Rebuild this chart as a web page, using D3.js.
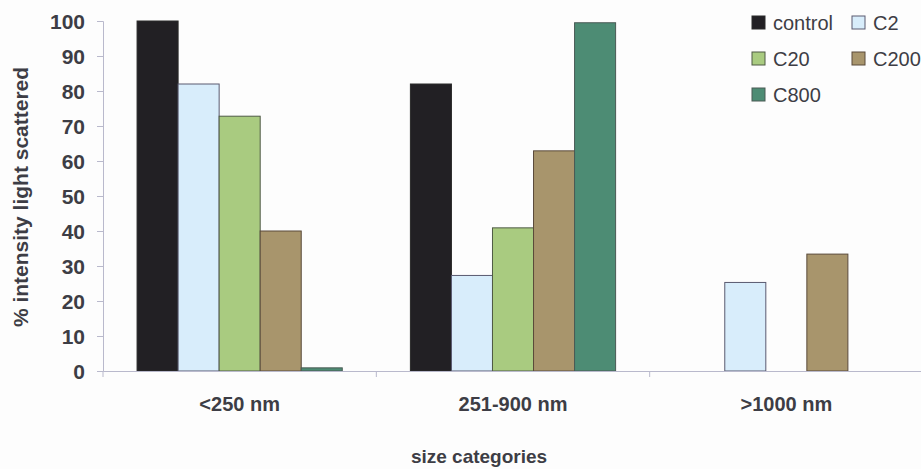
<!DOCTYPE html>
<html>
<head>
<meta charset="utf-8">
<script src="https://cdn.jsdelivr.net/npm/d3@7"></script>
<style>
  body { margin: 0; background: #fdfdfd; }
  text { font-family: Arial, "Liberation Sans", sans-serif; fill: #3d3d45; }
</style>
</head>
<body>
<div id="chart"></div>
<script>
// data
const categories = ["<250 nm", "251-900 nm", ">1000 nm"];
const seriesNames = ["control", "C2", "C20", "C200", "C800"];
const control = [100, 82, 0];
const c2      = [82, 27.3, 25.3];
const c20     = [72.8, 40.9, 0];
const c200    = [40, 62.9, 33.4];
const c800    = [0.9, 99.5, 0];
const yTicks  = [0, 10, 20, 30, 40, 50, 60, 70, 80, 90, 100];

const colors  = ["#222024", "#d8edfb", "#a9cb80", "#a8956c", "#4d8c74"];
const strokes = ["#2a2a2a", "#5a5a70", "#4f5a45", "#5a4a3a", "#4a5a55"];

const width = 921, height = 469;
const margin = { left: 103, right: -2, top: 21, bottom: 98 };

const svg = d3.select("#chart").append("svg")
  .attr("width", width).attr("height", height);

const table = categories.map(function(c, i) {
  return { cat: c, values: [control[i], c2[i], c20[i], c200[i], c800[i]] };
});

const x0 = d3.scaleBand()
  .domain(categories)
  .range([margin.left, width - margin.right])
  .paddingInner(0).paddingOuter(0);

const x1 = d3.scaleBand()
  .domain(seriesNames)
  .range([0, x0.bandwidth()])
  .paddingInner(0)
  .paddingOuter(0.83);

const y = d3.scaleLinear()
  .domain([0, 100])
  .range([height - margin.bottom, margin.top]);

const axisColor = "#b9b9cc";

// bars
const groups = svg.append("g").selectAll("g")
  .data(table)
  .enter().append("g")
    .attr("transform", function(d) { return "translate(" + x0(d.cat) + ",0)"; });

groups.selectAll("rect")
  .data(function(d) { return d.values.map(function(v, j) { return { name: seriesNames[j], v: v, j: j }; }); })
  .enter().append("rect")
    .filter(function(d) { return d.v > 0; })
    .attr("x", function(d) { return x1(d.name); })
    .attr("width", x1.bandwidth())
    .attr("y", function(d) { return y(d.v); })
    .attr("height", function(d) { return y(0) - y(d.v); })
    .attr("fill", function(d) { return colors[d.j]; })
    .attr("stroke", function(d) { return strokes[d.j]; })
    .attr("stroke-width", 1);

// y axis
const yAxis = svg.append("g")
  .attr("transform", "translate(" + margin.left + ",0)")
  .call(d3.axisLeft(y).tickValues(yTicks).tickSize(6).tickPadding(12));
yAxis.select(".domain").attr("stroke", axisColor);
yAxis.selectAll(".tick line").attr("stroke", axisColor);
yAxis.selectAll(".tick text")
  .attr("dy", "0.36em")
  .style("font-size", "21px").style("font-weight", "bold").attr("fill", "#3d3d45");

// x axis
const xAxis = svg.append("g")
  .attr("transform", "translate(0," + y(0) + ")")
  .call(d3.axisBottom(x0).tickSize(0).tickPadding(0));
xAxis.select(".domain").attr("stroke", axisColor);
xAxis.selectAll(".tick text")
  .attr("dy", "0")
  .attr("y", 40)
  .style("font-size", "20px").style("font-weight", "bold").attr("fill", "#3d3d45");

// category separators
svg.append("g").selectAll("line")
  .data(categories)
  .enter().append("line")
    .attr("x1", function(d) { return x0(d); })
    .attr("x2", function(d) { return x0(d); })
    .attr("y1", y(0))
    .attr("y2", y(0) + 6)
    .attr("stroke", axisColor);

// axis titles
svg.append("text")
  .attr("transform", "translate(28,197) rotate(-90)")
  .attr("text-anchor", "middle")
  .style("font-size", "21px").style("font-weight", "bold")
  .text("% intensity light scattered");

svg.append("text")
  .attr("x", 479).attr("y", 463)
  .attr("text-anchor", "middle")
  .style("font-size", "19px").style("font-weight", "bold")
  .text("size categories");

// legend
const legendPos = [[752, 16], [852, 16], [752, 52], [852, 52], [752, 88]];
const legend = svg.append("g").selectAll("g")
  .data(seriesNames)
  .enter().append("g")
    .attr("transform", function(d, i) { return "translate(" + legendPos[i][0] + "," + legendPos[i][1] + ")"; });

legend.append("rect")
  .attr("width", 13).attr("height", 13)
  .attr("fill", function(d, i) { return colors[i]; })
  .attr("stroke", function(d, i) { return strokes[i]; });

legend.append("text")
  .attr("x", 21).attr("y", 13.5)
  .style("font-size", "20px")
  .text(function(d) { return d; });
</script>
</body>
</html>
